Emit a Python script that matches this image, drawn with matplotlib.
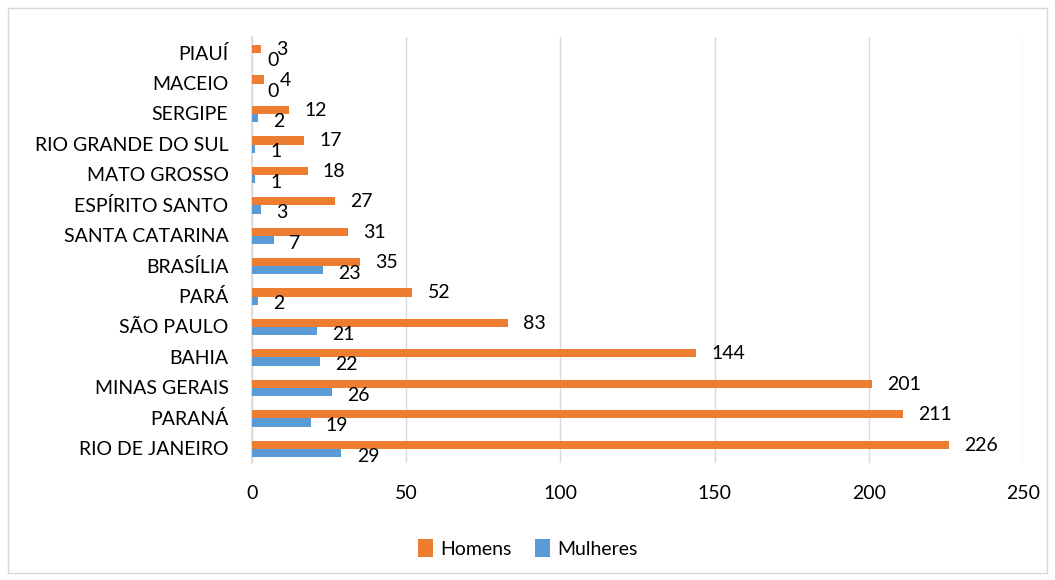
import matplotlib.pyplot as plt
import numpy as np
from matplotlib.patches import Rectangle

plt.rcParams['font.family'] = ['Lato', 'DejaVu Sans']

estados = ["RIO DE JANEIRO", "PARANÁ", "MINAS GERAIS", "BAHIA", "SÃO PAULO", "PARÁ",
           "BRASÍLIA", "SANTA CATARINA", "ESPÍRITO SANTO", "MATO GROSSO",
           "RIO GRANDE DO SUL", "SERGIPE", "MACEIO", "PIAUÍ"]
homens = [226, 211, 201, 144, 83, 52, 35, 31, 27, 18, 17, 12, 4, 3]
mulheres = [29, 19, 26, 22, 21, 2, 23, 7, 3, 1, 1, 2, 0, 0]
xticks = [0, 50, 100, 150, 200, 250]

orange = "#ED7D31"
blue = "#5B9BD5"
fs = 14

fig = plt.figure(figsize=(10.55, 5.8), dpi=100)
ax = fig.add_axes([0.2389, 0.2017, 0.7308, 0.7343])

y = np.arange(len(estados))
h = 0.27
ax.barh(y + h / 2 - 0.03, homens, height=h, color=orange, label="Homens", zorder=3)
ax.barh(y - h / 2 - 0.03, mulheres, height=h, color=blue, label="Mulheres", zorder=3)

for yi, v in zip(y, homens):
    ax.annotate(str(v), (v, yi + h / 2), xytext=(11, -1), textcoords="offset points",
                ha="left", va="center", fontsize=fs, color="black")
for yi, v in zip(y, mulheres):
    ax.annotate(str(v), (v, yi - h / 2), xytext=(11, -3), textcoords="offset points",
                ha="left", va="center", fontsize=fs, color="black")

ax.set_xlim(0, 250)
ax.set_ylim(-0.5, len(estados) - 0.5)
ax.set_xticks(xticks)
ax.set_yticks(y)
ax.set_yticklabels(estados)
ax.tick_params(axis="both", length=0, labelsize=fs)
ax.tick_params(axis="x", pad=16)
ax.tick_params(axis="y", pad=17)
ax.grid(axis="x", color="#D9D9D9", linewidth=1, zorder=0)
for s in ["top", "right", "bottom"]:
    ax.spines[s].set_visible(False)
ax.spines["left"].set_color("#D9D9D9")
ax.spines["left"].set_linewidth(1.2)

handles, labels = ax.get_legend_handles_labels()
fig.legend(handles, labels, loc="center", bbox_to_anchor=(0.5, 0.055), ncol=2,
           frameon=False, fontsize=fs, handlelength=0.8, handleheight=1.1,
           handletextpad=0.35, columnspacing=1.2)

fig.patches.append(Rectangle((0.008, 0.012), 0.984, 0.975, transform=fig.transFigure,
                             fill=False, edgecolor="#D9D9D9", linewidth=1))

fig.savefig("out.png", dpi=100)
